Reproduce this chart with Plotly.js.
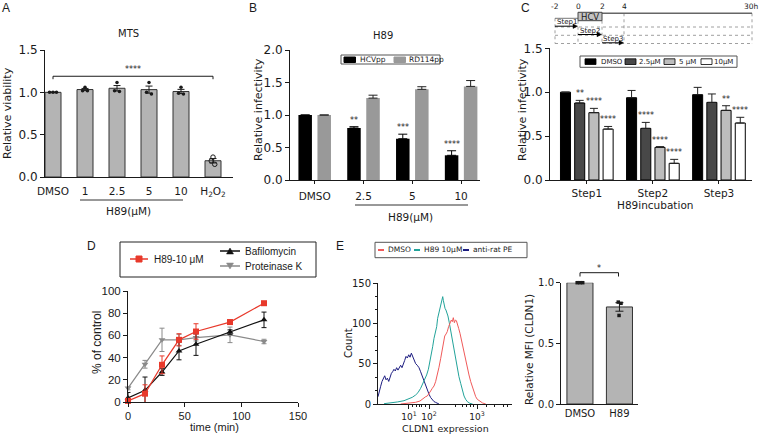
<!DOCTYPE html>
<html><head><meta charset="utf-8">
<script src="https://cdn.plot.ly/plotly-3.0.1.min.js"></script>
<style>html,body{margin:0;padding:0;background:#fff;}#chart{width:760px;height:435px;}</style>
</head><body><div id="chart"></div>
<script>
// ================= DATA =================
// A: MTS viability
const catsA = ['DMSO', '1', '2.5', '5', '10', 'H<sub>2</sub>O<sub>2</sub>'];
const meanA = [1.00, 1.033, 1.048, 1.032, 1.010, 0.192];
const semA  = [0.004, 0.013, 0.032, 0.042, 0.025, 0.026];
const ptsA_DMSO = [1.00, 1.00, 1.00];
const ptsA_1    = [1.02, 1.06, 1.02];
const ptsA_2_5  = [1.02, 1.115, 1.01];
const ptsA_5    = [1.00, 1.115, 0.98];
const ptsA_10   = [0.99, 1.06, 0.98];
const ptsA_H2O2 = [0.19, 0.235, 0.15];
const sigA = '****';

// B: H89 pseudoparticles
const groupsB = ['DMSO', '2.5', '5', '10'];
const hcvB    = [1.00, 0.80, 0.635, 0.38];
const hcvErrB = [0, 0.02, 0.07, 0.07];
const rdB     = [1.00, 1.26, 1.395, 1.44];
const rdErrB  = [0, 0.045, 0.04, 0.09];
const starsB  = ['', '**', '***', '****'];

// C: time of addition
const stepsC  = ['Step1', 'Step2', 'Step3'];
const namesC  = ['DMSO', '2.5μM', '5 μM', '10μM'];
const cDMSO   = [1.00, 0.937, 0.972];
const cDMSOe  = [0, 0.083, 0.083];
const c2_5    = [0.877, 0.588, 0.884];
const c2_5e   = [0.03, 0.068, 0.096];
const c5      = [0.767, 0.372, 0.793];
const c5e     = [0.049, 0.008, 0.053];
const c10     = [0.58, 0.19, 0.649];
const c10e    = [0.03, 0.045, 0.065];
const starsC_DMSO = ['', '', ''];
const starsC_2_5  = ['**', '****', ''];
const starsC_5    = ['****', '****', '**'];
const starsC_10   = ['****', '****', '****'];
const timelineLabels = ['-2', '0', '2', '4', '30h'];

// D: kinetics
const timeD    = [0, 15, 30, 45, 60, 90, 120];
const h89D     = [1, 7.5, 33.5, 56, 63.5, 72, 89];
const h89ErrD  = [1, 8, 8, 5.5, 7, 2, 1.5];
const bafD     = [3.6, 10.5, 27, 46, 52, 63, 74];
const bafErrD  = [5, 12, 3, 8, 10, 2, 7];
const protD    = [12.5, 34, 56, 56, 58, 60.5, 54.5];
const protErrD = [1.5, 3.5, 10.5, 5, 3, 7, 2];

// E: flow cytometry histogram (channel units) and MFI bars
const histTickVals = [231, 381, 739];
const histTickText = ['10<sup>1</sup>', '10<sup>2</sup>', '10<sup>3</sup>'];
const histMinorVals = [261, 284, 306, 328, 351, 575, 627, 664, 687, 709, 813, 873, 933, 970];
const ratX = [0, 10, 20, 30, 40, 50, 60, 70, 80, 90, 100, 109, 119, 129, 139, 149, 159, 169, 179, 189, 199, 209, 219, 229, 239, 249, 259, 269, 281, 293, 306, 318, 331, 343, 356, 368, 381, 393, 405, 418, 430, 443, 455];
const ratY = [9, 17, 22, 28, 31, 35, 30, 32, 28, 34, 38, 40, 43, 41, 45, 42, 46, 48, 45, 51, 54, 59, 57, 61, 58, 63, 59, 55, 50, 48, 45, 40, 34, 28, 22, 16, 12, 8, 5, 3, 2, 0.5, 0];
const h89X = [45, 95, 144, 194, 231, 256, 281, 298, 318, 333, 348, 363, 376, 388, 398, 408, 418, 428, 438, 445, 453, 460, 468, 475, 483, 488, 493, 500, 507, 515, 522, 532, 542, 552, 562, 572, 582, 592, 604, 617, 629, 642, 654, 667, 686, 706];
const h89Y = [0.4, 1.2, 2.5, 4.1, 6.2, 8.3, 11.2, 14, 19.4, 24.8, 29.8, 36, 43, 52.5, 60.7, 71, 81.4, 88.4, 95.9, 106.2, 112.4, 118.6, 122.7, 128.1, 133.1, 128.1, 121.5, 118.6, 116.5, 113.2, 109.1, 100.8, 91.7, 81.4, 71.1, 60.7, 51.2, 45.5, 33.9, 25.6, 17.4, 9.9, 5.8, 2.9, 0.8, 0];
const dmsoX = [169, 244, 281, 313, 331, 343, 356, 368, 381, 393, 405, 418, 430, 443, 455, 468, 478, 488, 498, 508, 517, 527, 537, 547, 555, 562, 570, 577, 585, 592, 602, 612, 622, 632, 642, 654, 667, 679, 692, 704, 716, 729, 741, 761, 781, 804];
const dmsoY = [0, 0.8, 2.1, 3.7, 5.8, 8.3, 9.1, 9.9, 12.4, 16.1, 19.4, 22.3, 27.7, 36, 45.5, 56.6, 66.9, 79.3, 84.3, 86.8, 89.7, 95.9, 100.8, 104.1, 102.1, 107, 100.8, 104, 103.3, 100, 93.8, 87.6, 79.3, 71.1, 62.8, 52.5, 44.2, 36, 27.7, 20.7, 14, 9.1, 5.8, 2.9, 1.2, 0];
const catsE   = ['DMSO', 'H89'];
const mfiE    = [1.00, 0.80];
const mfiErrE = [0.004, 0.035];
const ptsE_DMSO = [1.00, 1.00, 1.00];
const ptsE_H89  = [0.84, 0.83, 0.73];

// ================= HELPERS =================
const W = 760, H = 435;
const px = x => x / W, py = y => 1 - y / H;
const domX = (a, b) => [a / W, b / W];
const domY = (t, b) => [1 - b / H, 1 - t / H];
const DV = 'DejaVu Sans, Verdana, sans-serif';
const AR = 'Liberation Sans, Arial, sans-serif';
const INK = '#1a1a1a';
const traces = [], annotations = [], shapes = [];
const F = (size, family, color) => ({family: family || DV, size: size, color: color || INK});

function txt(x, y, text, o) {
  annotations.push(Object.assign({xref: 'paper', yref: 'paper', x: px(x), y: py(y), text: text, showarrow: false,
    xanchor: 'center', yanchor: 'middle', font: F(10)}, o || {}));
}
function seg(x0, y0, x1, y1, o) {
  shapes.push({type: 'line', xref: 'paper', yref: 'paper', x0: px(x0), y0: py(y0), x1: px(x1), y1: py(y1),
    line: Object.assign({color: INK, width: 1}, o || {})});
}
function box(x0, y0, x1, y1, fill, lc, lw) {
  shapes.push({type: 'rect', xref: 'paper', yref: 'paper', x0: px(x0), y0: py(y0), x1: px(x1), y1: py(y1),
    fillcolor: fill, line: {color: lc || fill, width: lw == null ? 1 : lw}});
}
function poly(pts, fill) {
  const d = pts.map((p, i) => (i ? 'L' : 'M') + px(p[0]) + ',' + py(p[1])).join('') + 'Z';
  shapes.push({type: 'path', xref: 'paper', yref: 'paper', path: d, fillcolor: fill, line: {color: fill, width: 0.5}});
}
function arrow(x0, x1, y) {
  seg(x0, y, x1 - 3, y, {color: '#000', width: 1});
  poly([[x1 - 4.5, y - 2.2], [x1, y], [x1 - 4.5, y + 2.2]], '#000');
}
function ax(o) {
  return Object.assign({showline: true, linecolor: INK, linewidth: 1, ticks: 'outside', ticklen: 4, tickcolor: INK,
    tickwidth: 1, showgrid: false, zeroline: false, fixedrange: true, tickfont: F(12)}, o);
}
const zeros = n => new Array(n).fill(0);
const JIT = [-0.11, 0, 0.11];

// ================= A =================
const idxA = catsA.map((_, i) => i);
traces.push({type: 'bar', name: 'MTS', x: idxA, y: meanA, width: 0.5, xaxis: 'x', yaxis: 'y',
  marker: {color: '#b4b4b4', line: {color: '#333', width: 1}},
  error_y: {type: 'data', array: semA, color: INK, thickness: 1, width: 3.5}, hoverinfo: 'skip'});
const ptsA = [ptsA_DMSO, ptsA_1, ptsA_2_5, ptsA_5, ptsA_10];
const dAx = [], dAy = [];
ptsA.forEach((arr, i) => arr.forEach((v, j) => { dAx.push(i + JIT[j] * (i === 0 ? 1 : 0.7)); dAy.push(v); }));
traces.push({type: 'scatter', mode: 'markers', x: dAx, y: dAy, xaxis: 'x', yaxis: 'y', cliponaxis: false,
  marker: {color: INK, size: 3.5}, hoverinfo: 'skip'});
traces.push({type: 'scatter', mode: 'markers', x: ptsA_H2O2.map((v, j) => 5 + JIT[j] * 0.5), y: ptsA_H2O2, xaxis: 'x', yaxis: 'y',
  marker: {symbol: 'circle-open', color: INK, size: 4.5, line: {width: 1}}, hoverinfo: 'skip'});
const yb = 1.19;
[[0, yb, 5, yb], [0, yb, 0, yb - 0.035], [5, yb, 5, yb - 0.035]].forEach(s =>
  shapes.push({type: 'line', xref: 'x', yref: 'y', x0: s[0], y0: s[1], x1: s[2], y1: s[3], line: {color: INK, width: 1}}));
annotations.push({xref: 'x', yref: 'y', x: 2.5, y: yb, yanchor: 'bottom', text: sigA, showarrow: false, font: F(8)});
seg(80, 200, 183, 200, {width: 1, color: '#333'});
txt(128, 211, 'H89(μM)', {font: F(10.5)});
txt(128, 34, 'MTS', {font: F(10)});
txt(8, 113, 'Relative viability', {textangle: -90, font: F(11)});

// ================= B =================
const idxB = groupsB.map((_, i) => i);
const WB = 0.277, CB = 0.195;
traces.push({type: 'bar', name: 'HCVpp', x: idxB, y: hcvB, width: WB, offset: -CB - WB / 2, xaxis: 'x2', yaxis: 'y2',
  marker: {color: '#000'}, error_y: {type: 'data', symmetric: false, array: hcvErrB, arrayminus: zeros(4), color: '#000', thickness: 1, width: 4.5}, hoverinfo: 'skip'});
traces.push({type: 'bar', name: 'RD114pp', x: idxB, y: rdB, width: WB, offset: CB - WB / 2, xaxis: 'x2', yaxis: 'y2',
  marker: {color: '#999999'}, error_y: {type: 'data', symmetric: false, array: rdErrB, arrayminus: zeros(4), color: '#222', thickness: 1, width: 4.5}, hoverinfo: 'skip'});
starsB.forEach((s, i) => { if (s) annotations.push({xref: 'x2', yref: 'y2', x: i - CB, y: hcvB[i] + hcvErrB[i], yanchor: 'bottom', text: s, showarrow: false, font: F(8)}); });
txt(383, 35, 'H89', {font: F(10)});
txt(258, 110, 'Relative infectivity', {textangle: -90, font: F(11)});
seg(355, 205, 468, 205, {color: '#333'});
txt(410, 216.5, 'H89(μM)', {font: F(10.5)});
box(341, 55, 440, 64, '#fff', '#555', 1);
box(344, 57, 355.5, 62.5, '#000');
txt(357.5, 59.8, 'HCVpp', {xanchor: 'left', font: F(7.5)});
box(394, 57, 405.5, 62.5, '#999999');
txt(407, 59.8, 'RD114pp', {xanchor: 'left', font: F(7.5)});

// ================= C =================
const valC = [cDMSO, c2_5, c5, c10], errC = [cDMSOe, c2_5e, c5e, c10e];
const starC = [starsC_DMSO, starsC_2_5, starsC_5, starsC_10];
const colC = ['#000000', '#484848', '#bdbdbd', '#ffffff'];
const WC = 0.152, CC = [-0.3225, -0.1075, 0.1075, 0.3225];
const idxC = stepsC.map((_, i) => i);
valC.forEach((v, k) => {
  traces.push({type: 'bar', name: namesC[k], x: idxC, y: v, width: WC, offset: CC[k] - WC / 2, xaxis: 'x3', yaxis: 'y3',
    marker: {color: colC[k], line: {color: '#000', width: 1}},
    error_y: {type: 'data', symmetric: false, array: errC[k], arrayminus: zeros(3), color: '#222', thickness: 1, width: 4}, hoverinfo: 'skip'});
  starC[k].forEach((s, i) => { if (s) annotations.push({xref: 'x3', yref: 'y3', x: i + CC[k], y: v[i] + errC[k][i], yanchor: 'bottom', text: s, showarrow: false, font: F(8)}); });
});
txt(522, 110, 'Relative infectivity', {textangle: -90, font: F(11)});
txt(655, 205, 'H89incubation', {font: F(10.5)});
box(580, 56, 737, 67.3, '#fff', '#555', 1);
const legCx = [[585, 599], [625, 637], [664, 677], [701, 712]];
namesC.forEach((n, k) => {
  box(legCx[k][0], 58.8, legCx[k][0] + 11, 64.5, colC[k], '#000', 0.8);
  txt(legCx[k][1], 61.7, n, {xanchor: 'left', font: F(7)});
});
const TX = [555, 578, 602, 624, 752];
timelineLabels.forEach((l, i) => txt(TX[i] - (i === 4 ? 1 : 0), 6, l, {font: F(7.5)}));
[27, 35.3, 43.5].forEach(y => seg(555, y, 752, y, {color: '#888', width: 0.8, dash: 'dot'}));
seg(555, 18.3, 555, 43.5, {color: '#888', width: 0.8, dash: 'dot'});
seg(578, 20.7, 578, 43.5, {color: '#888', width: 0.8, dash: 'dot'});
seg(602, 20.7, 602, 43.5, {color: '#888', width: 0.8, dash: 'dot'});
seg(624, 13.3, 624, 43.5, {color: '#888', width: 0.8, dash: 'dot'});
seg(752, 13.3, 752, 43.5, {color: '#888', width: 0.8, dash: 'dot'});
seg(555, 18.3, 578, 18.3, {color: '#555', width: 0.8});
seg(602, 13.3, 752, 13.3, {color: '#666', width: 1.6});
box(578, 12.3, 602, 20.7, '#c4c4c4', '#444', 1);
txt(590, 16.6, 'HCV', {font: F(8.5)});
arrow(555, 577.5, 26.2); arrow(578, 601.5, 34.5); arrow(602, 623.5, 42.8);
txt(566.5, 22.4, 'Step1', {font: F(7)});
txt(590, 30.7, 'Step2', {font: F(7)});
txt(613, 39, 'Step3', {font: F(7)});

// ================= D =================
traces.push({type: 'scatter', mode: 'lines+markers', name: 'Proteinase K', x: timeD, y: protD, xaxis: 'x4', yaxis: 'y4', cliponaxis: false,
  line: {color: '#8a8a8a', width: 1.2}, marker: {symbol: 'triangle-down', size: 6, color: '#8a8a8a'},
  error_y: {type: 'data', array: protErrD, color: '#8a8a8a', thickness: 1, width: 2.5}, hoverinfo: 'skip'});
traces.push({type: 'scatter', mode: 'lines+markers', name: 'Bafilomycin', x: timeD, y: bafD, xaxis: 'x4', yaxis: 'y4', cliponaxis: false,
  line: {color: '#111', width: 1.2}, marker: {symbol: 'triangle-up', size: 6, color: '#111'},
  error_y: {type: 'data', array: bafErrD, color: '#111', thickness: 1, width: 2.5}, hoverinfo: 'skip'});
traces.push({type: 'scatter', mode: 'lines+markers', name: 'H89-10 μM', x: timeD, y: h89D, xaxis: 'x4', yaxis: 'y4', cliponaxis: false,
  line: {color: '#e8392b', width: 1.2}, marker: {symbol: 'square', size: 6, color: '#e8392b'},
  error_y: {type: 'data', array: h89ErrD, color: '#e8392b', thickness: 1, width: 2.5}, hoverinfo: 'skip'});
txt(97, 343, '% of control', {textangle: -90, font: F(12, AR)});
txt(214, 427, 'time (min)', {font: F(11, AR)});
box(120, 242, 316, 277, 'rgba(0,0,0,0)', '#222', 1);
seg(130, 259, 148, 259, {color: '#e8392b', width: 1.5});
box(136, 256, 142, 262, '#e8392b');
txt(152, 259, 'H89-10 μM', {xanchor: 'left', font: F(10, AR)});
seg(220, 251, 240, 251, {color: '#111', width: 1.5});
poly([[226.5, 254], [233.5, 254], [230, 248]], '#111');
txt(243, 251, 'Bafilomycin', {xanchor: 'left', font: F(10, AR)});
seg(220, 266, 240, 266, {color: '#8a8a8a', width: 1.5});
poly([[226.5, 263], [233.5, 263], [230, 269]], '#8a8a8a');
txt(243, 266, 'Proteinase K', {xanchor: 'left', font: F(10, AR)});

// ================= E histogram =================
traces.push({type: 'scatter', mode: 'lines', name: 'anti-rat PE', x: ratX, y: ratY, xaxis: 'x5', yaxis: 'y5', line: {color: '#1c1c80', width: 1}, hoverinfo: 'skip'});
traces.push({type: 'scatter', mode: 'lines', name: 'H89 10μM', x: h89X, y: h89Y, xaxis: 'x5', yaxis: 'y5', line: {color: '#22a39a', width: 1}, hoverinfo: 'skip'});
traces.push({type: 'scatter', mode: 'lines', name: 'DMSO', x: dmsoX, y: dmsoY, xaxis: 'x5', yaxis: 'y5', line: {color: '#f05a5a', width: 1}, hoverinfo: 'skip'});
txt(348, 343, 'Count', {textangle: -90, font: F(10)});
txt(445, 428, 'CLDN1 expression', {font: F(9.5)});
box(375, 242.3, 527, 257.7, '#fff', '#555', 1);
seg(378, 250, 384, 250, {color: '#f05a5a', width: 2});
txt(386, 250, 'DMSO', {xanchor: 'left', font: F(7.5)});
seg(414, 250, 420, 250, {color: '#22a39a', width: 2});
txt(422, 250, 'H89 10μM', {xanchor: 'left', font: F(7.5)});
seg(463, 250, 469, 250, {color: '#1c1c80', width: 2});
txt(471, 250, 'anti-rat PE', {xanchor: 'left', font: F(7.5)});

// ================= E MFI bars =================
traces.push({type: 'bar', name: 'MFI', x: [0, 1], y: mfiE, width: 0.66, xaxis: 'x6', yaxis: 'y6',
  marker: {color: '#b4b4b4', line: {color: '#333', width: 1}},
  error_y: {type: 'data', array: mfiErrE, color: INK, thickness: 1, width: 4}, hoverinfo: 'skip'});
const JE = [-0.07, 0, 0.07], JH = [-0.03, 0.04, -0.01];
traces.push({type: 'scatter', mode: 'markers', x: ptsE_DMSO.map((v, j) => JE[j]).concat(ptsE_H89.map((v, j) => 1 + JH[j])),
  y: ptsE_DMSO.concat(ptsE_H89), xaxis: 'x6', yaxis: 'y6', cliponaxis: false, marker: {color: INK, size: 3.5, symbol: 'square'}, hoverinfo: 'skip'});
seg(580, 272.7, 618.5, 272.7); seg(580, 272.7, 580, 276.5); seg(618.5, 272.7, 618.5, 276.5);
txt(599, 268.5, '*', {font: F(8)});
txt(529, 350, 'Relative MFI (CLDN1)', {textangle: -90, font: F(10.5)});

txt(6, 8, 'A', {font: F(12, AR)});
txt(253, 8, 'B', {font: F(12, AR)});
txt(525, 8, 'C', {font: F(12, AR)});
txt(91, 246, 'D', {font: F(12, AR)});
txt(340, 246, 'E', {font: F(12, AR)});

// ================= LAYOUT =================
const layout = {
  width: W, height: H, margin: {l: 0, r: 0, t: 0, b: 0}, paper_bgcolor: '#fff', plot_bgcolor: 'rgba(0,0,0,0)',
  showlegend: false, barmode: 'overlay', font: {family: DV, color: INK},
  xaxis: ax({domain: domX(45, 233), range: [-0.25, 5.625], tickvals: idxA, ticktext: catsA, ticks: '', ticklabelstandoff: 4, tickfont: F(10.5), anchor: 'y'}),
  yaxis: ax({domain: domY(50, 177), range: [0, 1.5], dtick: 0.5, tick0: 0, tickformat: '.1f', anchor: 'x'}),
  xaxis2: ax({domain: domX(290, 480), range: [-0.506, 3.387], tickvals: idxB, ticktext: groupsB, ticklen: 3, ticklabelstandoff: 3, tickfont: F(10.5), anchor: 'y2'}),
  yaxis2: ax({domain: domY(50, 180), range: [0, 2], dtick: 0.5, tick0: 0, tickformat: '.1f', anchor: 'x2'}),
  xaxis3: ax({domain: domX(550, 752), range: [-0.557, 2.5], tickvals: idxC, ticktext: stepsC, ticklen: 3, tickfont: F(10.5), anchor: 'y3'}),
  yaxis3: ax({domain: domY(48.3, 180), range: [0, 1.5], dtick: 0.5, tick0: 0, tickformat: '.1f', anchor: 'x3'}),
  xaxis4: ax({domain: domX(128, 298), range: [0, 150], dtick: 50, tick0: 0, tickfont: F(11, AR), anchor: 'y4'}),
  yaxis4: ax({domain: domY(291, 402), range: [0, 100], dtick: 20, tick0: 0, tickfont: F(11.5, AR), anchor: 'x4'}),
  xaxis5: ax({domain: domX(378, 512), range: [0, 1000], tickvals: histTickVals, ticktext: histTickText, tickfont: F(9), anchor: 'y5',
    minor: {tickvals: histMinorVals, ticklen: 2, ticks: 'outside', tickcolor: INK}}),
  yaxis5: ax({domain: domY(283, 404), range: [0, 150], dtick: 50, tick0: 0, tickfont: F(10), anchor: 'x5',
    minor: {dtick: 50 / 3, tick0: 0, ticklen: 2, ticks: 'outside', tickcolor: INK}}),
  xaxis6: ax({domain: domX(561, 638), range: [-0.48, 1.47], tickvals: [0, 1], ticktext: catsE, ticks: '', tickfont: F(10), anchor: 'y6'}),
  yaxis6: ax({domain: domY(282.7, 404), range: [0, 1], dtick: 0.5, tick0: 0, tickformat: '.1f', tickfont: F(10), anchor: 'x6'}),
  annotations: annotations, shapes: shapes
};
Plotly.newPlot('chart', traces, layout, {staticPlot: true, displayModeBar: false});
</script></body></html>
